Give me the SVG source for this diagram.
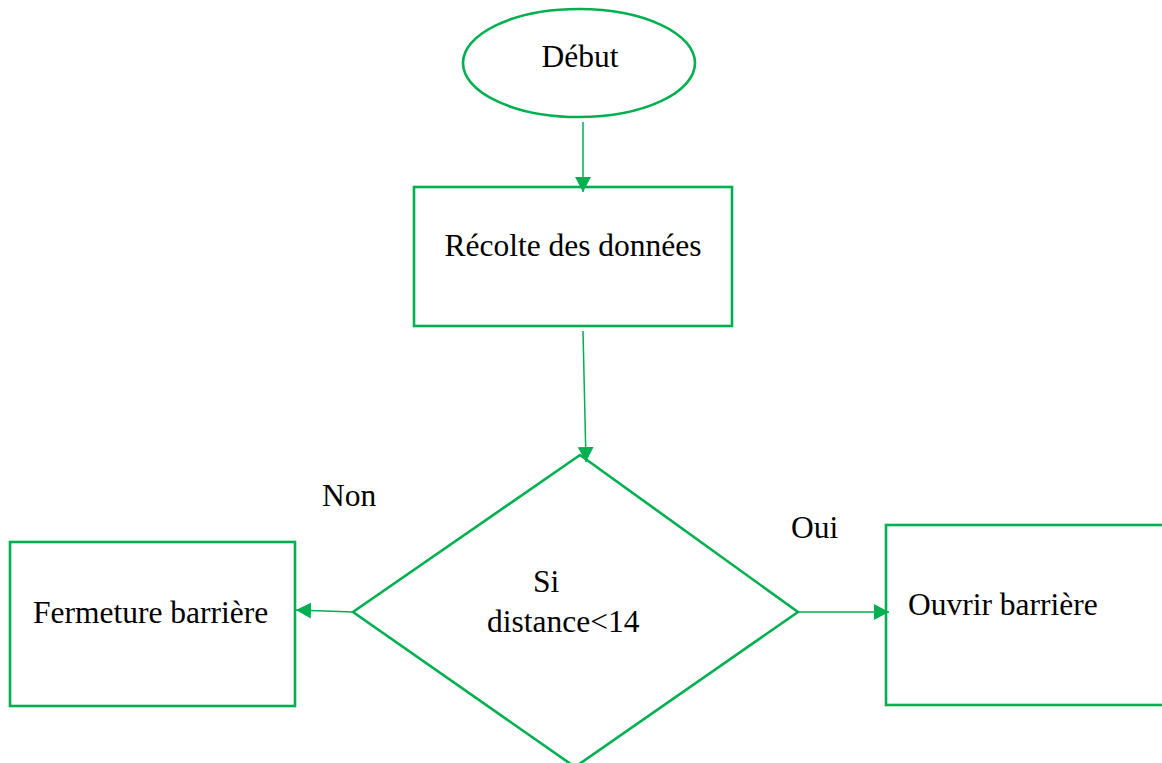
<svg xmlns="http://www.w3.org/2000/svg" width="1162" height="763" viewBox="0 0 1162 763">
<style>
.shape{fill:#fff;stroke:#00B050;stroke-width:2.6}
.conn{fill:none;stroke:#00B050;stroke-width:1.5}
text{font-family:"Liberation Serif","Times New Roman",serif;font-size:31.5px;fill:#000}
</style>
<defs>
<marker id="arr" markerUnits="userSpaceOnUse" markerWidth="16" markerHeight="16" refX="15" refY="8" orient="auto">
<path d="M0,0 L15,8 L0,16 Z" fill="#00B050"/>
</marker>
</defs>
<rect width="1162" height="763" fill="#fff"/>
<g id="debut">
<ellipse class="shape" cx="579" cy="63" rx="116" ry="54"/>
<text x="580" y="67" text-anchor="middle">Début</text>
</g>
<g id="recolte">
<rect class="shape" x="414" y="187" width="318" height="139"/>
<text x="573" y="256" text-anchor="middle">Récolte des données</text>
</g>
<g id="decision">
<polygon class="shape" points="580,455 798,612 575,767 353,612"/>
<text x="533" y="592">Si</text>
<text x="487" y="632">distance&lt;14</text>
</g>
<g id="fermeture">
<rect class="shape" x="10" y="542" width="285" height="164"/>
<text x="33" y="623">Fermeture barrière</text>
</g>
<g id="ouvrir">
<rect class="shape" x="886" y="525" width="300" height="180"/>
<text x="908" y="615">Ouvrir barrière</text>
</g>
<g id="connectors">
<line class="conn" x1="583" y1="122" x2="583" y2="192" marker-end="url(#arr)"/>
<line class="conn" x1="583" y1="331" x2="586" y2="462" marker-end="url(#arr)"/>
<line class="conn" x1="353" y1="612" x2="296" y2="610" marker-end="url(#arr)"/>
<line class="conn" x1="798" y1="612" x2="889" y2="612" marker-end="url(#arr)"/>
</g>
<g id="labels">
<text x="322" y="506">Non</text>
<text x="791" y="538">Oui</text>
</g>
</svg>
